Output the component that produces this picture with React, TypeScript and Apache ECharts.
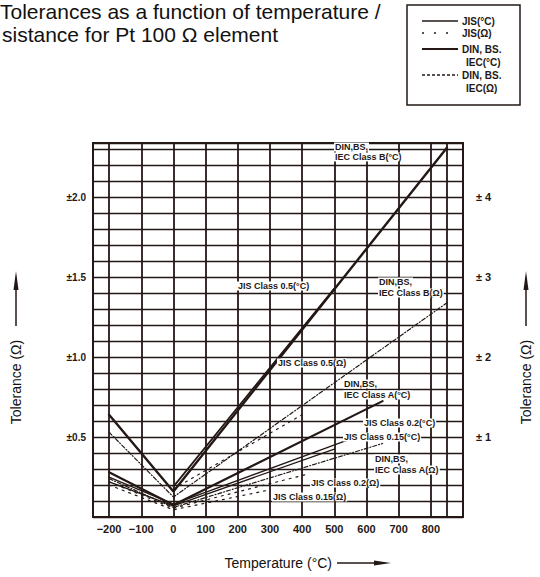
import React, { useEffect, useRef } from "react";
import * as echarts from "echarts";

const INK = "#231815";
const FONT = '"Liberation Sans", Arial, sans-serif';

// ---- Axis ticks / labels ----
const xMin = -250;
const xMax = 900;
const xStep = 50;
const xLabelValues = [-200, -100, 0, 100, 200, 300, 400, 500, 600, 700, 800];
const xGridValues = [-200, -100, 0, 100, 200, 300, 400, 500, 600, 700, 800, 850];
const leftTickValues = [0.5, 1.0, 1.5, 2.0];
const leftTickLabels = ["±0.5", "±1.0", "±1.5", "±2.0"];
const rightTickValues = [1, 2, 3, 4];
const rightTickLabels = ["± 1", "± 2", "± 3", "± 4"];

// ---- Series data (temperature °C, tolerance) ----
// (°C) curves are read on the right axis (°C), (Ω) curves on the left axis (Ω)
const dinBDegTemps = [-200, 0, 850];
const dinBDegValues = [1.28, 0.32, 4.62];

const jis05DegTemps = [0, 500];
const jis05DegValues = [0.38, 2.86];

const dinBOhmTemps = [-200, 0, 850];
const dinBOhmValues = [0.53, 0.125, 1.34];

const jis05OhmTemps = [0, 400];
const jis05OhmValues = [0.175, 0.64];

const dinADegTemps = [-200, 0, 650];
const dinADegValues = [0.56, 0.15, 1.45];

const dinAOhmTemps = [-200, 0, 650];
const dinAOhmValues = [0.24, 0.06, 0.46];

const jis02DegTemps = [-200, 0, 600];
const jis02DegValues = [0.5, 0.16, 1.05];

const jis015DegTemps = [-200, 0, 500];
const jis015DegValues = [0.44, 0.14, 0.85];

const jis02OhmTemps = [-200, 0, 420];
const jis02OhmValues = [0.22, 0.055, 0.27];

const jis015OhmTemps = [-200, 0, 300];
const jis015OhmValues = [0.2, 0.045, 0.17];

// ---- Annotation texts ----
const lineLabelTexts = [
  "DIN,BS,", "IEC Class B(°C)",
  "JIS Class 0.5(°C)",
  "DIN,BS,", "IEC Class B(Ω)",
  "JIS Class 0.5(Ω)",
  "DIN,BS,", "IEC Class A(°C)",
  "JIS Class 0.2(°C)",
  "JIS Class 0.15(°C)",
  "DIN,BS,", "IEC Class A(Ω)",
  "JIS Class 0.2(Ω)",
  "JIS Class 0.15(Ω)",
];
// layout of the annotation texts (pixel positions)
const lineLabelPos = [
  [334, 147], [334, 157],
  [237, 286],
  [378, 282], [378, 293],
  [277, 363],
  [343, 384], [343, 395],
  [363, 423],
  [343, 437],
  [374, 459], [374, 470],
  [310, 483],
  [272, 497],
];

const legendTexts = ["JIS(°C)", "JIS(Ω)", "DIN, BS.", "IEC(°C)", "DIN, BS.", "IEC(Ω)"];

const titleLine1 = "Tolerances as a function of temperature /";
const titleLine2 = "sistance for Pt 100 Ω element";
const yAxisTitle = "Tolerance (Ω)";
const xAxisTitle = "Temperature (°C)";

function mkSeries(name: string, temps: number[], vals: number[], yAxisIndex: number, width: number, type: any) {
  return {
    name,
    type: "line",
    yAxisIndex,
    data: temps.map((t, i) => [t, vals[i]]),
    symbol: "none",
    silent: true,
    z: 5,
    lineStyle: { color: INK, width, type, cap: "round" },
  };
}

export default function App() {
  const ref = useRef<HTMLDivElement>(null);

  useEffect(() => {
    if (!ref.current) return;
    const chart = echarts.init(ref.current, null, { renderer: "svg", width: 540, height: 577 });

    const xTicks: number[] = [];
    for (let v = xMin; v <= xMax; v += xStep) xTicks.push(v);
    const xSplitColors = xTicks.map((v) => (xGridValues.includes(v) ? INK : "rgba(0,0,0,0)"));

    const DOTS = [2, 5];
    const DASHDOT = [4, 2, 1, 2];

    const series = [
      mkSeries("DIN,BS,IEC Class B(°C)", dinBDegTemps, dinBDegValues, 1, 2.4, "solid"),
      mkSeries("JIS Class 0.5(°C)", jis05DegTemps, jis05DegValues, 1, 1.8, "solid"),
      mkSeries("DIN,BS,IEC Class B(Ω)", dinBOhmTemps, dinBOhmValues, 0, 1.2, DASHDOT),
      mkSeries("JIS Class 0.5(Ω)", jis05OhmTemps, jis05OhmValues, 0, 1.2, DOTS),
      mkSeries("DIN,BS,IEC Class A(°C)", dinADegTemps, dinADegValues, 1, 2.2, "solid"),
      mkSeries("DIN,BS,IEC Class A(Ω)", dinAOhmTemps, dinAOhmValues, 0, 1.2, DASHDOT),
      mkSeries("JIS Class 0.2(°C)", jis02DegTemps, jis02DegValues, 1, 1.3, "solid"),
      mkSeries("JIS Class 0.15(°C)", jis015DegTemps, jis015DegValues, 1, 1.3, "solid"),
      mkSeries("JIS Class 0.2(Ω)", jis02OhmTemps, jis02OhmValues, 0, 1.2, DOTS),
      mkSeries("JIS Class 0.15(Ω)", jis015OhmTemps, jis015OhmValues, 0, 1.2, DOTS),
    ];

    const graphics: any[] = [];

    // title
    graphics.push({
      type: "text",
      style: { text: titleLine1, x: 0, y: 11, font: `21px ${FONT}`, fill: "#111", textVerticalAlign: "middle" },
    });
    graphics.push({
      type: "text",
      style: { text: titleLine2, x: 2, y: 34, font: `21px ${FONT}`, fill: "#111", textVerticalAlign: "middle" },
    });

    // legend box
    graphics.push({
      type: "rect",
      shape: { x: 407, y: 5, width: 113, height: 100 },
      style: { fill: "#fff", stroke: INK, lineWidth: 1.5 },
      z: 10,
    });
    const legendRows = [21, 33, 49, 62, 75, 88];
    legendTexts.forEach((t, i) => {
      graphics.push({
        type: "text",
        z: 11,
        style: {
          text: t,
          x: i === 3 || i === 5 ? 466 : 462,
          y: legendRows[i],
          font: `bold 10px ${FONT}`,
          fill: INK,
          textVerticalAlign: "middle",
        },
      });
    });
    const legendSamples: [number, number, any][] = [
      [legendRows[0], 1.5, "solid"],
      [legendRows[1], 1.3, [2, 10]],
      [legendRows[2], 2.2, "solid"],
      [legendRows[4], 1.3, [3, 2]],
    ];
    legendSamples.forEach(([y, w, d]) => {
      graphics.push({
        type: "line",
        z: 11,
        shape: { x1: 422, y1: y, x2: 458, y2: y },
        style: { stroke: INK, lineWidth: w, lineDash: d === "solid" ? null : d },
      });
    });

    // line annotations
    lineLabelTexts.forEach((t, i) => {
      graphics.push({
        type: "text",
        z: 20,
        style: {
          text: t,
          x: lineLabelPos[i][0],
          y: lineLabelPos[i][1],
          font: `bold 9px ${FONT}`,
          fill: INK,
          textVerticalAlign: "middle",
          backgroundColor: "#fff",
          padding: [0, 1],
        },
      });
    });

    // axis titles with arrows
    const vTitle = (x: number) => {
      graphics.push({
        type: "text",
        x,
        y: 382,
        rotation: Math.PI / 2,
        style: { text: yAxisTitle, x: 0, y: 0, font: `14px ${FONT}`, fill: "#111", textAlign: "center", textVerticalAlign: "middle" },
      });
      graphics.push({ type: "line", shape: { x1: x, y1: 326, x2: x, y2: 282 }, style: { stroke: INK, lineWidth: 1.5 } });
      graphics.push({
        type: "polygon",
        shape: { points: [[x - 2.5, 290], [x + 2.5, 290], [x, 271]] },
        style: { fill: INK },
      });
    };
    vTitle(16);
    vTitle(526);

    graphics.push({
      type: "text",
      style: { text: xAxisTitle, x: 332, y: 563, font: `14px ${FONT}`, fill: "#111", textAlign: "right", textVerticalAlign: "middle" },
    });
    graphics.push({ type: "line", shape: { x1: 337, y1: 563, x2: 382, y2: 563 }, style: { stroke: INK, lineWidth: 1.3 } });
    graphics.push({
      type: "polygon",
      shape: { points: [[374, 560.5], [374, 565.5], [391, 563]] },
      style: { fill: INK },
    });

    const isClose = (a: number, b: number) => Math.abs(a - b) < 1e-6;

    chart.setOption({
      animation: false,
      backgroundColor: "#fff",
      grid: { left: 93, right: 77, top: 143, bottom: 60, show: true, borderColor: INK, borderWidth: 2, backgroundColor: "transparent" },
      xAxis: {
        type: "value",
        min: xMin,
        max: xMax,
        interval: xStep,
        axisLine: { show: false },
        axisTick: { show: false },
        splitLine: { show: true, lineStyle: { color: xSplitColors, width: 1.8 } },
        axisLabel: {
          margin: 6,
          color: INK,
          fontFamily: FONT,
          fontWeight: "bold",
          fontSize: 11,
          formatter: (v: number) => {
            const k = xLabelValues.findIndex((x) => isClose(x, v));
            return k >= 0 ? String(xLabelValues[k]).replace("-", "−") : "";
          },
        },
      },
      yAxis: [
        {
          type: "value",
          min: 0,
          max: 2.34,
          interval: 0.1,
          axisLine: { show: false },
          axisTick: { show: false },
          splitLine: { show: true, lineStyle: { color: INK, width: 1.4 } },
          axisLabel: {
            margin: 7,
            color: INK,
            fontFamily: FONT,
            fontWeight: "bold",
            fontSize: 10,
            formatter: (v: number) => {
              const k = leftTickValues.findIndex((x) => isClose(x, v));
              return k >= 0 ? leftTickLabels[k] : "";
            },
          },
        },
        {
          type: "value",
          position: "right",
          min: 0,
          max: 4.68,
          interval: 1,
          axisLine: { show: false },
          axisTick: { show: false },
          splitLine: { show: false },
          axisLabel: {
            margin: 13,
            color: INK,
            fontFamily: FONT,
            fontWeight: "bold",
            fontSize: 11,
            formatter: (v: number) => {
              const k = rightTickValues.findIndex((x) => isClose(x, v));
              return k >= 0 ? rightTickLabels[k] : "";
            },
          },
        },
      ],
      series,
      graphic: { elements: graphics },
    });

    return () => chart.dispose();
  }, []);

  return (
    <div
      ref={ref}
      style={{ position: "fixed", left: 0, top: 0, width: 540, height: 577, background: "#fff" }}
    />
  );
}
